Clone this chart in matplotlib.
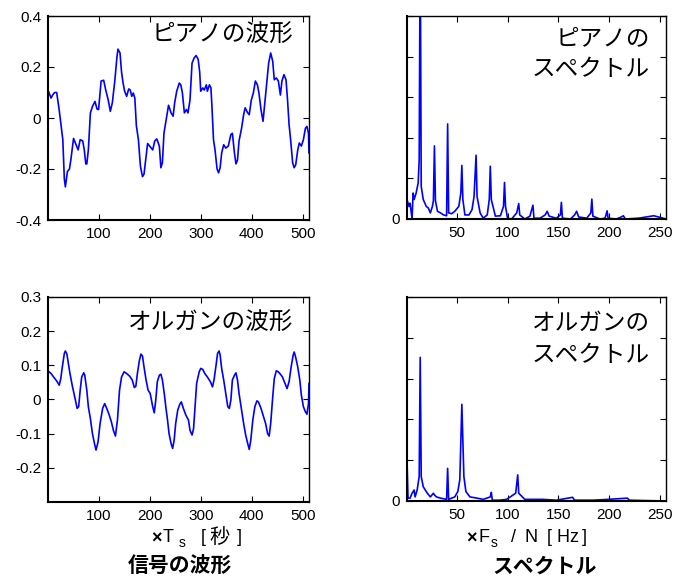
import matplotlib
matplotlib.use("Agg")
import matplotlib.pyplot as plt

plt.rcParams['font.family'] = ['Liberation Sans', 'Noto Sans CJK JP', 'DejaVu Sans']

# ---- data ----
piano_n = [1, 7, 10, 14, 18, 23, 26, 30, 33, 35, 39, 43, 46, 51, 56, 60, 64, 69, 72, 75, 77, 80, 84,
           88, 93, 97, 100, 105, 110, 114, 119, 123, 127, 132, 136, 138, 142, 145, 148, 151, 155, 159,
           162, 165, 168, 171, 174, 178, 182, 186, 189, 193, 196, 200, 206, 210, 214, 219, 222, 225,
           228, 233, 237, 242, 246, 249, 253, 258, 261, 264, 268, 272, 275, 279, 283, 287, 291, 295,
           298, 300, 304, 307, 311, 313, 317, 320, 322, 325, 328, 332, 335, 338, 341, 345, 349, 354,
           359, 362, 366, 369, 372, 375, 380, 384, 387, 392, 395, 399, 403, 407, 411, 414, 418, 422,
           426, 430, 433, 437, 441, 444, 448, 452, 456, 459, 463, 467, 470, 473, 476, 480, 483, 486,
           490, 493, 497, 501, 505, 508, 511, 512]
piano_v = [0.11, 0.078, 0.09, 0.10, 0.10, 0.03, -0.02, -0.085, -0.24, -0.27, -0.21, -0.20, -0.16,
           -0.08, -0.105, -0.125, -0.085, -0.09, -0.125, -0.18, -0.18, -0.125, 0.02, 0.045, 0.065,
           0.035, 0.033, 0.145, 0.148, 0.11, 0.07, 0.026, 0.06, 0.15, 0.24, 0.27, 0.255, 0.18, 0.137,
           0.105, 0.085, 0.114, 0.11, 0.085, 0.098, 0.078, -0.03, -0.085, -0.19, -0.23, -0.22, -0.15,
           -0.10, -0.11, -0.125, -0.09, -0.082, -0.11, -0.195, -0.175, -0.06, 0.0, 0.05, 0.02, 0.007,
           0.06, 0.105, 0.137, 0.13, 0.10, 0.02, 0.033, 0.02, 0.07, 0.215, 0.235, 0.245, 0.23, 0.18,
           0.105, 0.118, 0.11, 0.13, 0.105, 0.13, 0.118, 0.045, -0.085, -0.125, -0.20, -0.215, -0.195,
           -0.137, -0.105, -0.118, -0.11, -0.065, -0.06, -0.137, -0.18, -0.165, -0.09, -0.04, 0.013,
           0.04, 0.02, 0.013, 0.07, 0.098, 0.145, 0.13, 0.098, 0.033, -0.013, 0.07, 0.15, 0.215, 0.255,
           0.222, 0.15, 0.157, 0.145, 0.09, 0.145, 0.17, 0.15, 0.07, -0.026, -0.085, -0.176, -0.195,
           -0.183, -0.125, -0.098, -0.11, -0.085, -0.04, -0.033, -0.06, -0.137]

organ_n = [1, 7, 13, 19, 23, 26, 29, 33, 35, 38, 41, 44, 49, 54, 58, 61, 64, 67, 71, 73, 77, 80, 84,
           88, 92, 95, 99, 103, 108, 112, 116, 121, 125, 129, 133, 137, 141, 145, 150, 155, 161, 166,
           170, 173, 176, 180, 183, 186, 189, 193, 197, 201, 206, 209, 212, 215, 219, 222, 225, 229,
           232, 235, 238, 242, 245, 248, 251, 255, 259, 262, 266, 271, 276, 279, 283, 286, 289, 292,
           297, 300, 304, 308, 313, 319, 323, 326, 330, 333, 336, 338, 341, 345, 349, 353, 356, 359,
           362, 366, 369, 372, 375, 380, 384, 388, 392, 395, 398, 402, 406, 410, 413, 418, 422, 427,
           431, 434, 437, 441, 444, 448, 452, 456, 460, 465, 469, 473, 477, 481, 483, 486, 490, 494,
           497, 501, 505, 508, 511, 512]
organ_v = [0.084, 0.076, 0.064, 0.052, 0.042, 0.061, 0.095, 0.135, 0.142, 0.133, 0.105, 0.076, 0.037,
           0.003, -0.026, -0.021, 0.027, 0.066, 0.078, 0.071, 0.027, -0.021, -0.056, -0.10, -0.129,
           -0.148, -0.124, -0.07, -0.026, -0.012, -0.026, -0.046, -0.065, -0.09, -0.107, -0.06, 0.027,
           0.066, 0.081, 0.076, 0.068, 0.057, 0.035, 0.039, 0.076, 0.115, 0.133, 0.127, 0.095, 0.057,
           0.027, 0.018, -0.021, -0.039, -0.002, 0.052, 0.071, 0.074, 0.057, 0.013, -0.026, -0.06,
           -0.10, -0.129, -0.143, -0.119, -0.07, -0.031, -0.014, -0.007, -0.026, -0.046, -0.06, -0.09,
           -0.104, -0.085, -0.021, 0.047, 0.081, 0.091, 0.088, 0.076, 0.066, 0.052, 0.037, 0.057, 0.10,
           0.135, 0.142, 0.13, 0.091, 0.057, 0.018, -0.021, -0.026, -0.002, 0.057, 0.071, 0.078, 0.057,
           0.018, -0.031, -0.07, -0.104, -0.129, -0.146, -0.119, -0.06, -0.021, -0.004, -0.007, -0.026,
           -0.046, -0.07, -0.10, -0.107, -0.07, 0.008, 0.061, 0.084, 0.081, 0.074, 0.066, 0.047, 0.032,
           0.052, 0.095, 0.13, 0.139, 0.123, 0.095, 0.057, 0.013, -0.021, -0.036, -0.043, -0.012, 0.047]

piano_k = [1, 3, 4, 6, 7, 8, 10, 12, 13, 14, 15, 17, 20, 22, 24, 26, 27, 28, 29, 31, 34, 37, 40, 41,
           42, 45, 48, 52, 54, 55, 56, 58, 62, 65, 67, 69, 70, 73, 76, 80, 82, 83, 84, 88, 93, 96, 97,
           98, 100, 104, 109, 111, 112, 117, 122, 125, 126, 132, 137, 139, 141, 148, 152, 153, 154,
           162, 166, 168, 170, 178, 182, 183, 184, 191, 196, 198, 199, 207, 212, 214, 216, 229, 244, 256]
piano_s = [0.48, 0.31, 0.39, 0.0, 0.64, 0.48, 0.64, 0.89, 1.46, 7.0, 0.8, 0.48, 0.31, 0.27, 0.15,
           0.31, 0.45, 1.8, 0.45, 0.19, 0.15, 0.1, 0.08, 2.34, 0.15, 0.13, 0.19, 0.31, 0.64, 1.32,
           0.48, 0.1, 0.1, 0.23, 0.55, 1.57, 0.55, 0.15, 0.02, 0.1, 0.48, 1.3, 0.48, 0.07, 0.08, 0.31,
           0.9, 0.31, 0.02, 0.0, 0.15, 0.38, 0.1, 0.0, 0.07, 0.34, 0.02, 0.02, 0.1, 0.19, 0.07, 0.02,
           0.1, 0.41, 0.02, 0.0, 0.1, 0.19, 0.05, 0.02, 0.15, 0.49, 0.07, 0.0, 0.02, 0.2, 0.02, 0.0,
           0.05, 0.08, 0.0, 0.02, 0.08, 0.0]

organ_k = [1, 2, 4, 6, 8, 9, 11, 13, 14, 15, 17, 21, 24, 27, 28, 30, 34, 40, 41, 42, 45, 48, 51, 53,
           55, 57, 59, 63, 70, 76, 83, 84, 85, 92, 99, 108, 110, 111, 117, 135, 148, 164, 166, 184,
           199, 218, 220, 236, 256]
organ_s = [1.0, 0.07, 0.07, 0.19, 0.27, 0.1, 0.27, 0.6, 3.52, 0.6, 0.35, 0.19, 0.1, 0.19, 0.15, 0.1,
           0.07, 0.04, 0.8, 0.04, 0.07, 0.1, 0.23, 0.52, 2.37, 0.6, 0.23, 0.1, 0.07, 0.04, 0.1, 0.21,
           0.02, 0.02, 0.04, 0.19, 0.64, 0.19, 0.04, 0.04, 0.02, 0.09, 0.02, 0.02, 0.04, 0.07, 0.02,
           0.01, 0.0]

wave_xticks = [100, 200, 300, 400, 500]
spec_xticks = [50, 100, 150, 200, 250]
piano_yticks = [-0.4, -0.2, 0, 0.2, 0.4]
piano_ylabels = ['-0.4', '-0.2', '0', '0.2', '0.4']
organ_yticks = [-0.2, -0.1, 0, 0.1, 0.2, 0.3]
organ_ylabels = ['-0.2', '-0.1', '0', '0.1', '0.2', '0.3']
spec_yticks = [0, 1, 2, 3, 4, 5]
spec_ylabels = ['0', '', '', '', '', '']

W, H = 688, 581
fig = plt.figure(figsize=(W / 100, H / 100), dpi=100)


def px_axes(l, t, r, b):
    return fig.add_axes([l / W, 1 - b / H, (r - l) / W, (b - t) / H])


def style(ax):
    ax.tick_params(direction='in', top=True, right=True, labelsize=11, length=4,
                   width=0.8, pad=5, colors='black')
    for side, sp in ax.spines.items():
        sp.set_linewidth(1.5 if side in ('left', 'bottom') else 1.0)
        sp.set_color('black')


def ftext(x, y, s, **kw):
    kw.setdefault('va', 'center')
    kw.setdefault('ha', 'left')
    fig.text(x / W, 1 - y / H, s, **kw)


blue = '#0000ff'
jp = ['Noto Sans CJK JP', 'DejaVu Sans']
lat = ['Liberation Sans', 'Noto Sans CJK JP']

ax1 = px_axes(48, 16, 309, 220)
ax1.plot(piano_n, piano_v, color=blue, lw=1.2)
ax1.set_xlim(1, 512)
ax1.set_ylim(-0.4, 0.4)
ax1.set_xticks(wave_xticks)
ax1.set_yticks(piano_yticks)
ax1.set_yticklabels(piano_ylabels)
style(ax1)
ax1.text(0.94, 0.905, 'ピアノの波形', transform=ax1.transAxes, ha='right', va='center',
         fontsize=17, family=jp)

ax2 = px_axes(407, 16, 666, 219)
ax2.plot(piano_k, piano_s, color=blue, lw=1.2)
ax2.set_xlim(1, 256)
ax2.set_ylim(0, 5)
ax2.set_xticks(spec_xticks)
ax2.set_yticks(spec_yticks)
ax2.set_yticklabels(spec_ylabels)
style(ax2)
ax2.text(0.938, 0.89, 'ピアノの', transform=ax2.transAxes, ha='right', va='center',
         fontsize=17, family=jp)
ax2.text(0.938, 0.735, 'スペクトル', transform=ax2.transAxes, ha='right', va='center',
         fontsize=17, family=jp)

ax3 = px_axes(48, 297, 309, 502)
ax3.plot(organ_n, organ_v, color=blue, lw=1.2)
ax3.set_xlim(1, 512)
ax3.set_ylim(-0.3, 0.3)
ax3.set_xticks(wave_xticks)
ax3.set_yticks(organ_yticks)
ax3.set_yticklabels(organ_ylabels)
style(ax3)
ax3.text(0.94, 0.87, 'オルガンの波形', transform=ax3.transAxes, ha='right', va='center',
         fontsize=17, family=jp)

ax4 = px_axes(407, 297, 666, 501)
ax4.plot(organ_k, organ_s, color=blue, lw=1.2)
ax4.set_xlim(1, 256)
ax4.set_ylim(0, 5)
ax4.set_xticks(spec_xticks)
ax4.set_yticks(spec_yticks)
ax4.set_yticklabels(spec_ylabels)
style(ax4)
ax4.text(0.938, 0.87, 'オルガンの', transform=ax4.transAxes, ha='right', va='center',
         fontsize=17, family=jp)
ax4.text(0.938, 0.715, 'スペクトル', transform=ax4.transAxes, ha='right', va='center',
         fontsize=17, family=jp)

# x-axis labels, assembled piece by piece (subscript s)
ftext(151, 539, '×', fontsize=13, family=lat, fontweight='bold')
ftext(163, 538, 'T', fontsize=13, family=lat)
ftext(179, 543, 's', fontsize=10, family=lat)
ftext(201, 538, '[', fontsize=13, family=lat)
ftext(209, 537, '秒', fontsize=14.5, family=jp)
ftext(237, 538, ']', fontsize=13, family=lat)
ftext(180, 566, '信号の波形', ha='center', fontsize=15, fontweight='bold', family=jp)

ftext(466, 539, '×', fontsize=13, family=lat, fontweight='bold')
ftext(479, 538, 'F', fontsize=13, family=lat)
ftext(491, 543, 's', fontsize=10, family=lat)
ftext(511, 538, '/', fontsize=13, family=lat)
ftext(524, 538, 'N', fontsize=13, family=lat)
ftext(547, 538, '[', fontsize=13, family=lat)
ftext(556, 538, 'H', fontsize=13, family=lat)
ftext(569, 538, 'z', fontsize=13, family=lat)
ftext(582, 538, ']', fontsize=13, family=lat)
ftext(545, 566, 'スペクトル', ha='center', fontsize=15, fontweight='bold', family=jp)

fig.savefig('out.png', dpi=100)
